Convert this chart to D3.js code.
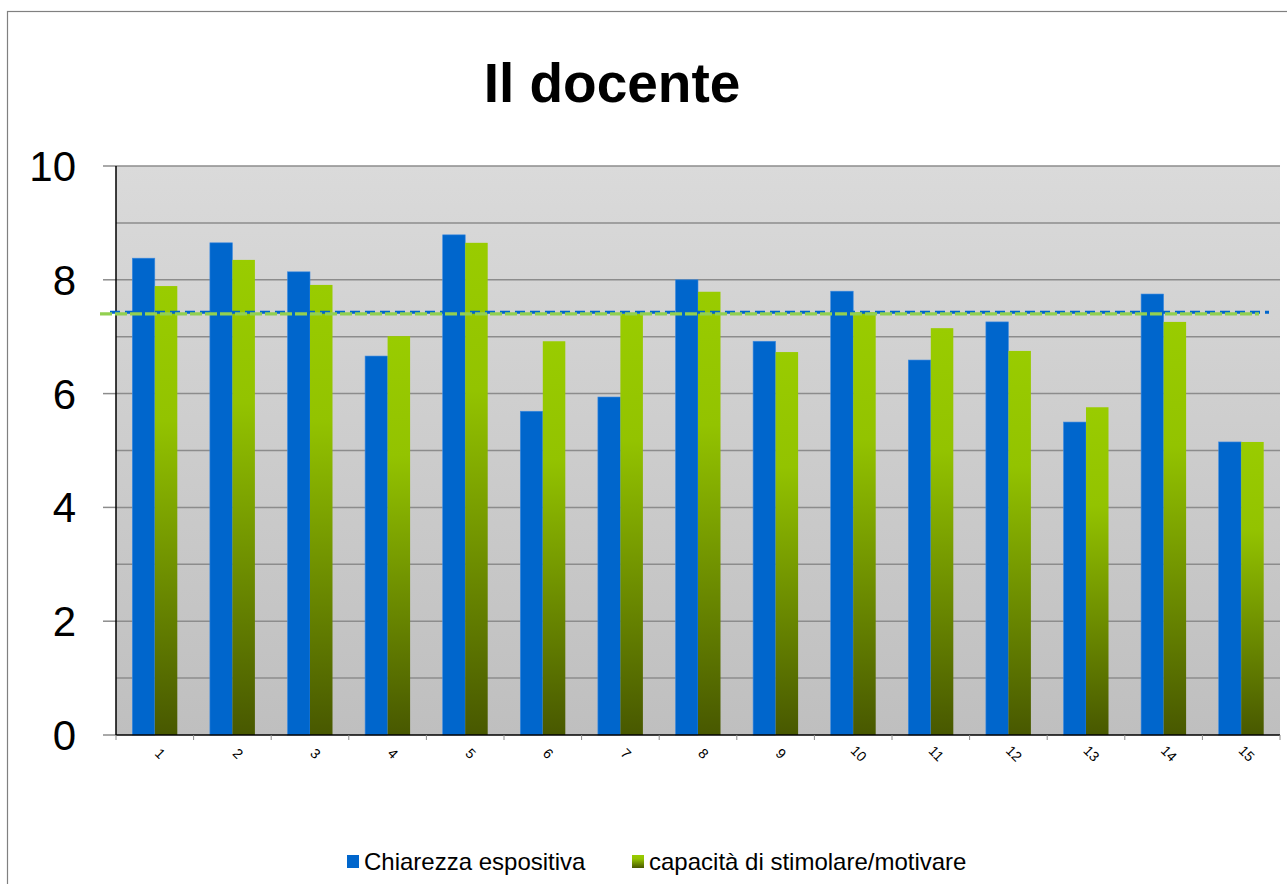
<!DOCTYPE html>
<html><head><meta charset="utf-8">
<script src="https://cdn.jsdelivr.net/npm/d3@7/dist/d3.min.js"></script>
<style>body{margin:0;background:#fff;}svg{display:block;font-family:"Liberation Sans",Arial,sans-serif;}</style>
</head><body>
<svg id="c" width="1287" height="884"></svg>
<script>
const categories = ["1","2","3","4","5","6","7","8","9","10","11","12","13","14","15"];
const chiarezza = [8.38,8.65,8.14,6.66,8.79,5.69,5.94,8.0,6.92,7.80,6.59,7.26,5.50,7.75,5.15];
const capacita  = [7.89,8.35,7.91,7.01,8.65,6.92,7.40,7.79,6.73,7.43,7.15,6.75,5.76,7.26,5.15];
const seriesNames = ["Chiarezza espositiva","capacità di stimolare/motivare"];
const avgChiarezza = 7.43;
const avgCapacita = 7.40;
const yTicks = [0,2,4,6,8,10];
const yGrid = [1,2,3,4,5,6,7,8,9,10];

const svg = d3.select("#c");
const L=116, R=1280, T=166, B=735;
const defs = svg.append("defs");
const bg = defs.append("linearGradient").attr("id","bg").attr("x1",0).attr("y1",0).attr("x2",0).attr("y2",1);
bg.append("stop").attr("offset","0%").attr("stop-color","#dadada");
bg.append("stop").attr("offset","100%").attr("stop-color","#bfbfbf");
const gg = defs.append("linearGradient").attr("id","gg").attr("x1",0).attr("y1",0).attr("x2",0).attr("y2",1);
gg.append("stop").attr("offset","0%").attr("stop-color","#99cc00");
gg.append("stop").attr("offset","30%").attr("stop-color","#93c300");
gg.append("stop").attr("offset","100%").attr("stop-color","#485800");

// frame
svg.append("rect").attr("x",7.5).attr("y",11.5).attr("width",1300).attr("height",900)
  .attr("fill","none").attr("stroke","#808080").attr("stroke-width",1.2);

svg.append("text").attr("x",612).attr("y",102).attr("text-anchor","middle")
  .attr("font-size",55).attr("font-weight","bold").text("Il docente");

const x = d3.scaleBand().domain(categories).range([L,R]).paddingInner(0).paddingOuter(0);
const y = d3.scaleLinear().domain([0,10]).range([B,T]);

svg.append("rect").attr("x",L).attr("y",T).attr("width",R-L).attr("height",B-T).attr("fill","url(#bg)");

svg.append("g").selectAll("line").data(yGrid).join("line")
  .attr("x1",L).attr("x2",R).attr("y1",d=>y(d)).attr("y2",d=>y(d))
  .attr("stroke","#8c8c8c").attr("stroke-width",1.5);
svg.append("g").selectAll("line").data(yTicks).join("line")
  .attr("x1",103).attr("x2",L).attr("y1",d=>y(d)).attr("y2",d=>y(d))
  .attr("stroke","#8c8c8c").attr("stroke-width",1.5);

svg.append("g").selectAll("text").data(yTicks).join("text")
  .attr("x",76).attr("y",d=>y(d)+15).attr("text-anchor","end")
  .attr("font-size",42).attr("fill","#000").text(d=>d);

const bw = 22.5;
const off = x.bandwidth()/2 - bw;
svg.append("g").selectAll("rect").data(chiarezza).join("rect")
  .attr("x",(d,i)=>x(categories[i])+off).attr("width",bw)
  .attr("y",d=>y(d)).attr("height",d=>B-y(d)).attr("fill","#0066cc")
  .attr("stroke","#3d8ae0").attr("stroke-width",0.6);
svg.append("g").selectAll("rect").data(capacita).join("rect")
  .attr("x",(d,i)=>x(categories[i])+off+bw).attr("width",bw)
  .attr("y",d=>y(d)).attr("height",d=>B-y(d)).attr("fill","url(#gg)");

// axes
svg.append("line").attr("x1",L).attr("x2",L).attr("y1",T).attr("y2",B).attr("stroke","#000").attr("stroke-width",1.5);
svg.append("line").attr("x1",L).attr("x2",R).attr("y1",B).attr("y2",B).attr("stroke","#000").attr("stroke-width",1.5);
const bounds = categories.map(c=>x(c)).concat([R]);
svg.append("g").selectAll("line").data(bounds).join("line")
  .attr("x1",d=>d).attr("x2",d=>d).attr("y1",B).attr("y2",B+5)
  .attr("stroke","#8c8c8c").attr("stroke-width",1);
svg.append("g").selectAll("text").data(categories).join("text")
  .attr("transform",d=>`translate(${x(d)+x.bandwidth()/2+2},${B+22}) rotate(45)`)
  .attr("text-anchor","middle").attr("font-size",14).attr("fill","#000").text(d=>d);

// average lines
svg.append("line").attr("x1",110).attr("x2",1269).attr("y1",y(avgChiarezza)).attr("y2",y(avgChiarezza))
  .attr("stroke","#0066cc").attr("stroke-width",3).attr("stroke-dasharray","10,5");
svg.append("line").attr("x1",100).attr("x2",1259).attr("y1",y(avgCapacita)).attr("y2",y(avgCapacita))
  .attr("stroke","#92d050").attr("stroke-width",3.3).attr("stroke-dasharray","12,3");

// legend
const lg = svg.append("g");
const items = [{n:seriesNames[0],f:"#0066cc",x:347,tx:364},{n:seriesNames[1],f:"url(#gg)",x:632,tx:649}];
items.forEach(it=>{
  lg.append("rect").attr("x",it.x).attr("y",855).attr("width",12).attr("height",13).attr("fill",it.f);
  lg.append("text").attr("x",it.tx).attr("y",870).attr("font-size",24).attr("fill","#000").text(it.n);
});
</script>
</body></html>
